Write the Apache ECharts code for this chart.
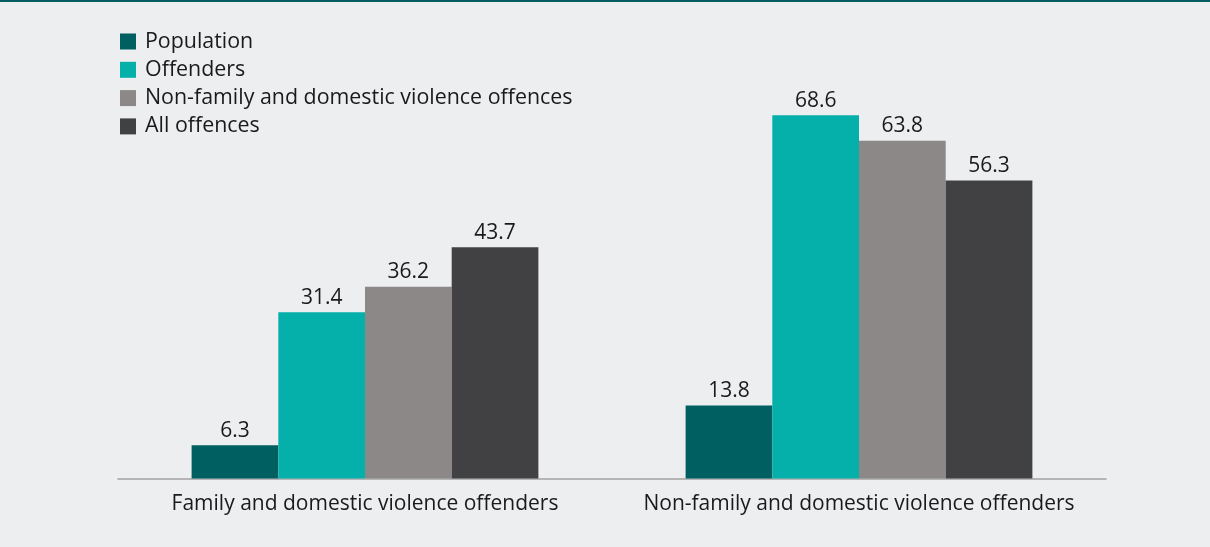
<!DOCTYPE html>
<html><head><meta charset="utf-8">
<script src="https://cdn.jsdelivr.net/npm/echarts@6/dist/echarts.min.js"></script>
<style>
html,body{margin:0;padding:0;background:#edeef0;}
#topline{position:absolute;left:0;top:0;width:1210px;height:2px;background:#035c5f;z-index:2;}
#chart{width:1210px;height:547px;}
</style></head>
<body>
<div id="topline"></div>
<div id="chart"></div>
<script>
const categories = ['Family and domestic violence offenders', 'Non-family and domestic violence offenders'];
const seriesNames = ['Population', 'Offenders', 'Non-family and domestic violence offences', 'All offences'];
const population = [6.3, 13.8];
const offenders = [31.4, 68.6];
const nonFdvOffences = [36.2, 63.8];
const allOffences = [43.7, 56.3];
const colors = ['#005f61', '#05afaa', '#8c8887', '#414042'];
const values = [population, offenders, nonFdvOffences, allOffences];
const FONT = '"Open Sans", Lato, sans-serif';

const chart = echarts.init(document.getElementById('chart'));
chart.setOption({
  backgroundColor: '#edeef0',
  animation: false,
  legend: {
    orient: 'vertical', left: 120, top: 31, padding: 0,
    icon: 'rect', itemWidth: 16, itemHeight: 16, itemGap: 7.3,
    textStyle: { fontFamily: FONT, fontSize: 21.4, lineHeight: 20, color: '#1a1a1a', padding: [0,0,0,4] },
    data: seriesNames
  },
  grid: { left: 118, right: 104, top: 55, bottom: 68.5 },
  xAxis: {
    type: 'category', data: categories,
    axisLine: { lineStyle: { color: '#a3a3a3', width: 1.5 } },
    axisTick: { show: false },
    axisLabel: { interval: 0, fontFamily: FONT, fontSize: 21, color: '#1a1a1a', margin: 15 }
  },
  yAxis: { type: 'value', min: 0, max: 80, show: false, splitLine: { show: false } },
  series: values.map((v, i) => ({
    name: seriesNames[i], type: 'bar', data: v,
    barGap: '0%', barCategoryGap: '29.8%',
    itemStyle: { color: colors[i] },
    label: { show: true, position: 'top', distance: 4, fontFamily: FONT, fontSize: 21, color: '#1a1a1a' }
  }))
});
</script>
</body></html>
